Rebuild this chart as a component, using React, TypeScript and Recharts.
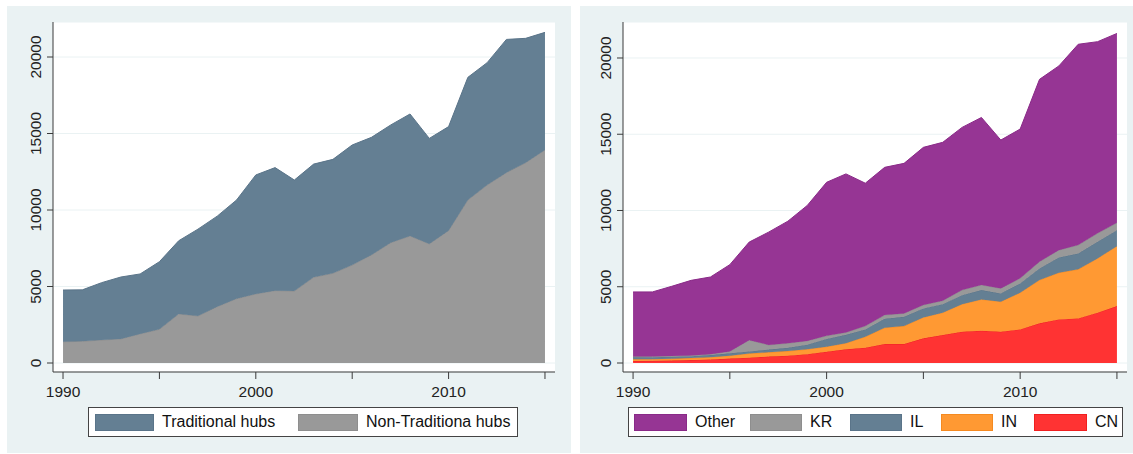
import { AreaChart, Area, XAxis, YAxis, CartesianGrid } from "recharts";

const years = [1990, 1991, 1992, 1993, 1994, 1995, 1996, 1997, 1998, 1999, 2000, 2001, 2002, 2003, 2004, 2005, 2006, 2007, 2008, 2009, 2010, 2011, 2012, 2013, 2014, 2015];

// left panel
const nonTraditional = [1390, 1415, 1500, 1570, 1900, 2200, 3200, 3070, 3680, 4200, 4510, 4730, 4700, 5600, 5860, 6400, 7060, 7860, 8300, 7780, 8650, 10650, 11630, 12440, 13090, 13920];
const traditional = [3380, 3365, 3750, 4050, 3920, 4420, 4790, 5680, 5920, 6450, 7780, 8040, 7260, 7400, 7450, 7850, 7690, 7700, 7975, 6900, 6800, 8020, 8000, 8710, 8130, 7690];

// right panel
const cn = [130, 140, 160, 190, 230, 290, 350, 420, 480, 580, 740, 900, 1000, 1245, 1245, 1615, 1835, 2050, 2115, 2050, 2205, 2600, 2860, 2925, 3300, 3730];
const inn = [110, 110, 120, 130, 150, 190, 270, 280, 300, 320, 330, 400, 720, 1065, 1175, 1375, 1465, 1810, 2055, 1970, 2405, 2840, 3060, 3215, 3560, 3930];
const il = [130, 130, 130, 130, 140, 160, 140, 180, 220, 300, 510, 550, 480, 590, 610, 590, 560, 590, 610, 540, 610, 760, 1000, 1040, 1090, 1050];
const kr = [50, 50, 50, 50, 60, 120, 740, 300, 290, 250, 200, 150, 220, 240, 220, 220, 220, 330, 330, 330, 330, 440, 480, 550, 550, 480];
const other = [4240, 4230, 4570, 4920, 5060, 5690, 6430, 7400, 8010, 8880, 10070, 10400, 9370, 9690, 9840, 10340, 10390, 10670, 10990, 9730, 9790, 11960, 12080, 13170, 12570, 12420];

const yTicks = [0, 5000, 10000, 15000, 20000];
const xTicks = [1990, 1995, 2000, 2005, 2010, 2015];

const leftData = years.map((year, i) => ({ year, nonTraditional: nonTraditional[i], traditional: traditional[i] }));
const rightData = years.map((year, i) => ({ year, cn: cn[i], inn: inn[i], il: il[i], kr: kr[i], other: other[i] }));

const FONT = "'Liberation Sans', Arial, Helvetica, sans-serif";
const BG = "#eaf2f3";
const AXIS = "#3a3a3a";

const YTick = (props: any) => {
  const { x, y, payload } = props;
  const cx = x - 12;
  return (
    <text x={cx} y={y} dy="0.36em" transform={`rotate(-90 ${cx} ${y})`} textAnchor="middle" fontSize={15.5} fill="#222" fontFamily={FONT}>
      {payload.value}
    </text>
  );
};

const XTick = (props: any) => {
  const { x, y, payload } = props;
  if (payload.value % 10 !== 0) return <g />;
  return (
    <text x={x} y={y + 12} dy="0.36em" textAnchor="middle" fontSize={15.5} fill="#222" fontFamily={FONT}>
      {payload.value}
    </text>
  );
};

const Swatch = ({ left, width, color, border, label }: { left: number; width: number; color: string; border: string; label: string }) => (
  <>
    <div style={{ position: "absolute", left, top: 414, width: width - 2, height: 15, background: color, border: `1px solid ${border}` }} />
    <div style={{ position: "absolute", left: left + width + 8, top: 412, fontSize: 16, lineHeight: "19px", color: "#111", fontFamily: FONT, whiteSpace: "nowrap" }}>
      {label}
    </div>
  </>
);

const App = () => {
  return (
    <div style={{ position: "absolute", left: 0, top: 0, width: 1133, height: 454, background: "#fff", overflow: "hidden" }}>
      {/* left panel */}
      <div style={{ position: "absolute", left: 7, top: 6, width: 564, height: 447, background: BG }}>
        <AreaChart width={564} height={447} data={leftData} margin={{ top: 16, right: 16, bottom: 0, left: 0 }}>
          <CartesianGrid vertical={false} stroke={BG} fill="#fff" />
          <XAxis dataKey="year" type="number" domain={[1989.48, 2015.52]} ticks={xTicks} allowDataOverflow height={81}
            tickSize={7} tickMargin={0} tick={<XTick />} axisLine={{ stroke: AXIS }} tickLine={{ stroke: AXIS }} />
          <YAxis type="number" domain={[-588, 22288]} ticks={yTicks} allowDataOverflow width={46}
            tickSize={6} tickMargin={0} tick={<YTick />} axisLine={{ stroke: AXIS }} tickLine={{ stroke: AXIS }} />
          <Area type="linear" dataKey="nonTraditional" stackId="1" fill="#999999" stroke="#8e8e8e" fillOpacity={1} isAnimationActive={false} />
          <Area type="linear" dataKey="traditional" stackId="1" fill="#647f93" stroke="#5a7489" fillOpacity={1} isAnimationActive={false} />
        </AreaChart>
      </div>
      <div style={{ position: "absolute", left: 88, top: 407, width: 428, height: 28, background: "#fff", border: "1px solid #444" }} />
      <Swatch left={95} width={59} color="#647f93" border="#5a7489" label="Traditional hubs" />
      <Swatch left={298} width={60} color="#999999" border="#8e8e8e" label="Non-Traditiona hubs" />

      {/* right panel */}
      <div style={{ position: "absolute", left: 580, top: 6, width: 553, height: 447, background: BG }}>
        <AreaChart width={553} height={447} data={rightData} margin={{ top: 16, right: 6, bottom: 0, left: 0 }}>
          <CartesianGrid vertical={false} stroke={BG} fill="#fff" />
          <XAxis dataKey="year" type="number" domain={[1989.48, 2015.52]} ticks={xTicks} allowDataOverflow height={81}
            tickSize={7} tickMargin={0} tick={<XTick />} axisLine={{ stroke: AXIS }} tickLine={{ stroke: AXIS }} />
          <YAxis type="number" domain={[-590, 22360]} ticks={yTicks} allowDataOverflow width={43}
            tickSize={6} tickMargin={0} tick={<YTick />} axisLine={{ stroke: AXIS }} tickLine={{ stroke: AXIS }} />
          <Area type="linear" dataKey="cn" stackId="1" fill="#ff3333" stroke="#f02020" fillOpacity={1} isAnimationActive={false} />
          <Area type="linear" dataKey="inn" stackId="1" fill="#ff9933" stroke="#f58a20" fillOpacity={1} isAnimationActive={false} />
          <Area type="linear" dataKey="il" stackId="1" fill="#647f93" stroke="#5a7489" fillOpacity={1} isAnimationActive={false} />
          <Area type="linear" dataKey="kr" stackId="1" fill="#999999" stroke="#8e8e8e" fillOpacity={1} isAnimationActive={false} />
          <Area type="linear" dataKey="other" stackId="1" fill="#963594" stroke="#8a2a88" fillOpacity={1} isAnimationActive={false} />
        </AreaChart>
      </div>
      <div style={{ position: "absolute", left: 628, top: 407, width: 493, height: 28, background: "#fff", border: "1px solid #444" }} />
      <Swatch left={634} width={53} color="#963594" border="#8a2a88" label="Other" />
      <Swatch left={750} width={52} color="#999999" border="#8e8e8e" label="KR" />
      <Swatch left={850} width={52} color="#647f93" border="#5a7489" label="IL" />
      <Swatch left={941} width={52} color="#ff9933" border="#f58a20" label="IN" />
      <Swatch left={1034} width={53} color="#ff3333" border="#f02020" label="CN" />
    </div>
  );
};

export default App;
